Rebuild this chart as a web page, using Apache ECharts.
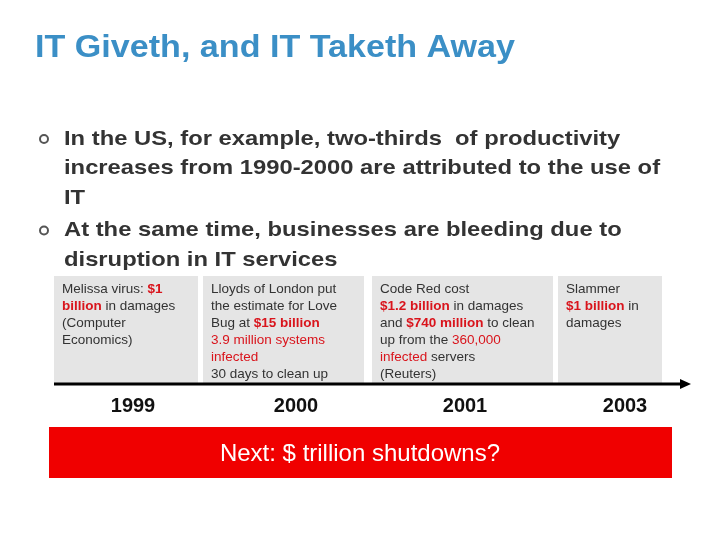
<!DOCTYPE html>
<html><head><meta charset="utf-8">
<script src="https://cdn.jsdelivr.net/npm/echarts@6/dist/echarts.min.js"></script>
<style>html,body{margin:0;padding:0;background:#fff}#main{width:720px;height:540px}</style>
</head><body><div id="main"></div>
<script>
var title = 'IT Giveth, and IT Taketh Away';
var bullets = [
  ['In the US, for example, two-thirds  of productivity', 'increases from 1990-2000 are attributed to the use of', 'IT'],
  ['At the same time, businesses are bleeding due to', 'disruption in IT services']
];
var years = ['1999', '2000', '2001', '2003'];
// box text in rich markup: n = normal, b = bold red, r = red
var boxTexts = [
  ['{n|Melissa virus: }{b|$1}', '{b|billion}{n| in damages}', '{n|(Computer}', '{n|Economics)}'],
  ['{n|Lloyds of London put}', '{n|the estimate for Love}', '{n|Bug at }{b|$15 billion}', '{r|3.9 million systems}', '{r|infected}', '{n|30 days to clean up}'],
  ['{n|Code Red cost}', '{b|$1.2 billion}{n| in damages}', '{n|and }{b|$740 million}{n| to clean}', '{n|up from the }{r|360,000}', '{r|infected}{n| servers}', '{n|(Reuters)}'],
  ['{n|Slammer}', '{b|$1 billion}{n| in}', '{n|damages}']
];
var banner = 'Next: $ trillion shutdowns?';

var boxes = [[54, 144], [203, 161], [372, 181], [558, 104]];
var yearX = [133, 296, 465, 625];
var red = '#d9141c';
var ff = 'Arial, "Liberation Sans"';
var rich = {
  n: {fontFamily: ff, fontSize: 13.5, fill: '#333', lineHeight: 17},
  b: {fontFamily: ff, fontSize: 13.5, fill: red, fontWeight: 'bold', lineHeight: 17},
  r: {fontFamily: ff, fontSize: 13.5, fill: red, lineHeight: 17}
};

var g = [];
g.push({type: 'text', x: 35, y: 48, scaleX: 1.1, style: {text: title, fill: '#3b8fc6', font: 'bold 31px "Liberation Sans", Arial', textVerticalAlign: 'middle'}});
var by = 139;
bullets.forEach(function (lines) {
  g.push({type: 'circle', shape: {cx: 44, cy: by, r: 4}, style: {fill: 'none', stroke: '#555', lineWidth: 2}});
  lines.forEach(function (l) {
    g.push({type: 'text', x: 64, y: by, scaleX: 1.16, style: {text: l, fill: '#333', font: 'bold 20.5px "Liberation Sans", Arial', textVerticalAlign: 'middle'}});
    by += 29.5;
  });
  by += 3;
});
boxes.forEach(function (b, i) {
  g.push({type: 'rect', shape: {x: b[0], y: 276, width: b[1], height: 108}, style: {fill: '#e5e5e5'}});
  g.push({type: 'text', x: b[0] + 8, y: 281, style: {text: boxTexts[i].join('\n'), rich: rich}});
});
g.push({type: 'line', shape: {x1: 54, y1: 384, x2: 680, y2: 384}, style: {stroke: '#000', lineWidth: 3}});
g.push({type: 'polygon', shape: {points: [[680, 379], [691, 384], [680, 389]]}, style: {fill: '#000'}});
years.forEach(function (y, i) {
  g.push({type: 'text', x: yearX[i], y: 406, style: {text: y, fill: '#111', font: 'bold 20px "Liberation Sans", Arial', textAlign: 'center', textVerticalAlign: 'middle'}});
});
g.push({type: 'rect', shape: {x: 49, y: 427, width: 623, height: 51}, style: {fill: '#f00000'}});
g.push({type: 'text', x: 360, y: 454, style: {text: banner, fill: '#fff', font: '24px "Liberation Sans", Arial', textAlign: 'center', textVerticalAlign: 'middle'}});

var chart = echarts.init(document.getElementById('main'));
chart.setOption({animation: false, graphic: g});
</script></body></html>
